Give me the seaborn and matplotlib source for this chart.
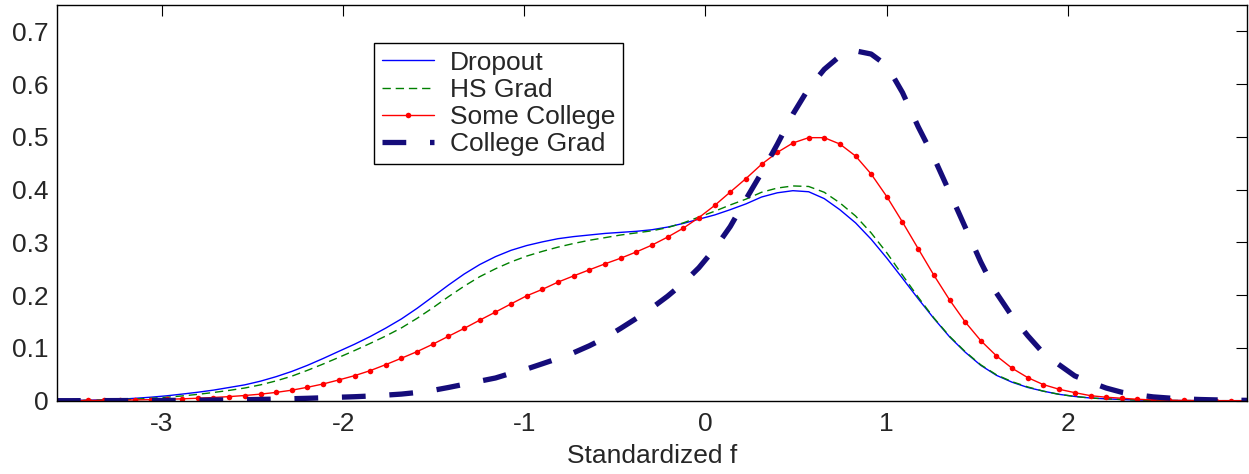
import numpy as np
import pandas as pd
import seaborn as sns
import matplotlib.pyplot as plt


# standardized f grid
f_grid = [
    -3.580, -3.494, -3.407, -3.321, -3.234, -3.148, -3.061, -2.975, -2.888, -2.802,
    -2.716, -2.629, -2.543, -2.456, -2.370, -2.283, -2.197, -2.110, -2.024, -1.937,
    -1.851, -1.765, -1.678, -1.592, -1.505, -1.419, -1.332, -1.246, -1.159, -1.073,
    -0.987, -0.900, -0.814, -0.727, -0.641, -0.554, -0.468, -0.381, -0.295, -0.209,
    -0.122, -0.036, 0.051, 0.137, 0.224, 0.310, 0.397, 0.483, 0.570, 0.656,
    0.742, 0.829, 0.915, 1.002, 1.088, 1.175, 1.261, 1.348, 1.434, 1.520,
    1.607, 1.693, 1.780, 1.866, 1.953, 2.039, 2.126, 2.212, 2.298, 2.385,
    2.471, 2.558, 2.644, 2.731, 2.817, 2.904, 2.990,
]

dropout = [
    0.0003, 0.0005, 0.0009, 0.0016, 0.0028, 0.0045, 0.0066, 0.0092, 0.0125, 0.0160,
    0.0200, 0.0250, 0.0300, 0.0370, 0.0455, 0.0555, 0.0670, 0.0800, 0.0935, 0.1070,
    0.1215, 0.1375, 0.1550, 0.1750, 0.1970, 0.2190, 0.2400, 0.2580, 0.2730, 0.2850,
    0.2940, 0.3010, 0.3070, 0.3110, 0.3140, 0.3170, 0.3190, 0.3210, 0.3240, 0.3290,
    0.3360, 0.3440, 0.3520, 0.3620, 0.3730, 0.3860, 0.3940, 0.3980, 0.3960, 0.3830,
    0.3620, 0.3370, 0.3060, 0.2700, 0.2320, 0.1930, 0.1560, 0.1210, 0.0920, 0.0670,
    0.0480, 0.0350, 0.0250, 0.0180, 0.0120, 0.0080, 0.0050, 0.0035, 0.0022, 0.0012,
    0.0007, 0.0004, 0.0002, 0.0001, 0.0000, 0.0000, 0.0000,
]

hs_grad = [
    0.0002, 0.0004, 0.0007, 0.0012, 0.0019, 0.0030, 0.0045, 0.0065, 0.0090, 0.0120,
    0.0155, 0.0195, 0.0240, 0.0300, 0.0375, 0.0465, 0.0575, 0.0695, 0.0820, 0.0950,
    0.1085, 0.1225, 0.1380, 0.1560, 0.1760, 0.1970, 0.2170, 0.2350, 0.2500, 0.2630,
    0.2740, 0.2830, 0.2910, 0.2980, 0.3040, 0.3090, 0.3140, 0.3180, 0.3220, 0.3280,
    0.3370, 0.3480, 0.3590, 0.3710, 0.3820, 0.3950, 0.4030, 0.4070, 0.4060, 0.3950,
    0.3750, 0.3500, 0.3180, 0.2800, 0.2380, 0.1960, 0.1570, 0.1220, 0.0930, 0.0680,
    0.0490, 0.0360, 0.0260, 0.0180, 0.0120, 0.0080, 0.0050, 0.0035, 0.0022, 0.0012,
    0.0007, 0.0004, 0.0002, 0.0001, 0.0000, 0.0000, 0.0000,
]

some_college = [
    0.0002, 0.0003, 0.0005, 0.0007, 0.0010, 0.0014, 0.0019, 0.0026, 0.0035, 0.0046,
    0.0060, 0.0077, 0.0098, 0.0124, 0.0157, 0.0199, 0.0254, 0.0317, 0.0393, 0.0474,
    0.0569, 0.0683, 0.0805, 0.0930, 0.1070, 0.1220, 0.1370, 0.1526, 0.1680, 0.1835,
    0.1987, 0.2110, 0.2247, 0.2366, 0.2480, 0.2594, 0.2700, 0.2820, 0.2949, 0.3100,
    0.3270, 0.3470, 0.3700, 0.3954, 0.4210, 0.4480, 0.4706, 0.4884, 0.4985, 0.4985,
    0.4865, 0.4637, 0.4296, 0.3865, 0.3385, 0.2879, 0.2380, 0.1910, 0.1493, 0.1139,
    0.0848, 0.0615, 0.0436, 0.0304, 0.0216, 0.0152, 0.0095, 0.0065, 0.0046, 0.0027,
    0.0013, 0.0008, 0.0004, 0.0002, 0.0001, 0.0000, 0.0000,
]

college_grad = [
    0.0000, 0.0000, 0.0001, 0.0001, 0.0002, 0.0003, 0.0004, 0.0005, 0.0007, 0.0009,
    0.0012, 0.0015, 0.0019, 0.0024, 0.0030, 0.0037, 0.0045, 0.0055, 0.0065, 0.0075,
    0.0088, 0.0105, 0.0125, 0.0155, 0.0195, 0.0250, 0.0310, 0.0370, 0.0430, 0.0520,
    0.0600, 0.0700, 0.0800, 0.0910, 0.1040, 0.1190, 0.1370, 0.1560, 0.1760, 0.1980,
    0.2230, 0.2520, 0.2880, 0.3300, 0.3820, 0.4320, 0.4860, 0.5430, 0.5920, 0.6280,
    0.6530, 0.6630, 0.6570, 0.6350, 0.5840, 0.5190, 0.4610, 0.3950, 0.3290, 0.2630,
    0.2040, 0.1600, 0.1230, 0.0900, 0.0680, 0.0470, 0.0350, 0.0240, 0.0160, 0.0110,
    0.0072, 0.0050, 0.0033, 0.0022, 0.0015, 0.0010, 0.0006,
]

x_ticks = [-3, -2, -1, 0, 1, 2]
x_tick_labels = ["-3", "-2", "-1", "0", "1", "2"]
y_ticks = [0, 0.1, 0.2, 0.3, 0.4, 0.5, 0.6, 0.7]
y_tick_labels = ["0", "0.1", "0.2", "0.3", "0.4", "0.5", "0.6", "0.7"]

df = pd.DataFrame({
    "f": f_grid,
    "Dropout": dropout,
    "HS Grad": hs_grad,
    "Some College": some_college,
    "College Grad": college_grad,
})

sns.set_style("white")
plt.rcParams["font.family"] = ["Liberation Sans", "DejaVu Sans"]
plt.rcParams["axes.unicode_minus"] = False

fig = plt.figure(figsize=(12.49, 4.74), dpi=100)
ax = fig.add_axes([0.0456, 0.1547, 0.9528, 0.8348])

sns.lineplot(data=df, x="f", y="Dropout", ax=ax, color="#0000ff",
             linewidth=1.0, label="Dropout")
sns.lineplot(data=df, x="f", y="HS Grad", ax=ax, color="#008000",
             linewidth=1.0, linestyle=(0, (6, 3.5)), label="HS Grad")
sns.lineplot(data=df, x="f", y="Some College", ax=ax, color="#ff0000",
             linewidth=1.0, marker="o", markersize=4, markeredgewidth=0,
             label="Some College")
sns.lineplot(data=df, x="f", y="College Grad", ax=ax, color="#150c7a",
             linewidth=3.8, linestyle=(0, (4.5, 4.5)), label="College Grad")

ax.set_xlim(f_grid[0], f_grid[-1])
ax.set_ylim(0, 0.75)
ax.set_xticks(x_ticks, labels=x_tick_labels)
ax.set_yticks(y_ticks, labels=y_tick_labels)
ax.tick_params(direction="in", top=True, right=True, length=8, width=0.8,
               labelsize=19, color="black")
ax.tick_params(axis="x", pad=8)
ax.tick_params(axis="y", pad=6)
ax.set_xlabel("Standardized f", fontsize=19, labelpad=6)
ax.set_ylabel("")
for s in ax.spines.values():
    s.set_visible(True)
    s.set_color("black")
    s.set_linewidth(1.0)

leg = ax.legend(loc="upper left", bbox_to_anchor=(0.2664, 0.9047),
                fontsize=19, frameon=True, fancybox=False, framealpha=1,
                edgecolor="black", handlelength=1.97, handletextpad=0.6,
                labelspacing=0.12, borderpad=0.3, borderaxespad=0)
leg.get_frame().set_linewidth(1.0)

fig.savefig("out.png", dpi=100)
